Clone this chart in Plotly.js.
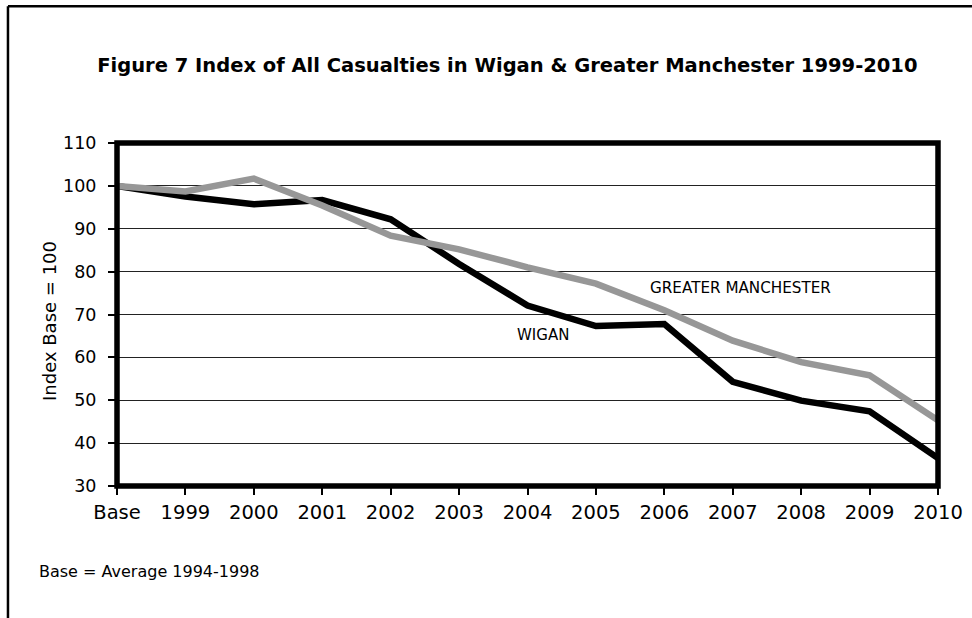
<!DOCTYPE html>
<html>
<head>
<meta charset="utf-8">
<script src="https://cdn.plot.ly/plotly-3.0.1.min.js"></script>
<style>html,body{margin:0;padding:0;background:#fff;}#chart{width:972px;height:618px;}</style>
</head>
<body>
<div id="chart"></div>
<script>
const categories = ["Base","1999","2000","2001","2002","2003","2004","2005","2006","2007","2008","2009","2010"];
const wigan = [100, 97.5, 95.7, 96.7, 92.2, 81.8, 72.1, 67.3, 67.8, 54.3, 49.9, 47.4, 36.5];
const greaterManchester = [100, 98.7, 101.7, 95.4, 88.4, 85.2, 81.0, 77.2, 71.0, 63.9, 58.9, 55.8, 45.3];
const yTicks = [30, 40, 50, 60, 70, 80, 90, 100, 110];

const FONT = 'DejaVu Sans, Verdana, sans-serif';

const traces = [
  {x: categories, y: wigan, type: 'scatter', mode: 'lines', name: 'WIGAN',
   line: {color: '#000000', width: 6.5}, hoverinfo: 'skip'},
  {x: categories, y: greaterManchester, type: 'scatter', mode: 'lines', name: 'GREATER MANCHESTER',
   line: {color: '#979797', width: 6.5}, hoverinfo: 'skip'}
];

const layout = {
  width: 972, height: 618,
  margin: {l: 117, r: 34, t: 143, b: 132, pad: 0},
  paper_bgcolor: '#ffffff', plot_bgcolor: '#ffffff',
  showlegend: false,
  font: {family: FONT, color: '#000'},
  title: {text: '<b>Figure 7 Index of All Casualties in Wigan &amp; Greater Manchester 1999-2010</b>',
          font: {family: FONT, size: 19.5, color: '#000'},
          x: 0.522, xanchor: 'center', y: 0.895, yanchor: 'middle'},
  xaxis: {type: 'category', range: [0, 12], showgrid: false, zeroline: false, showline: false,
          ticks: 'outside', ticklen: 8, tickwidth: 2, tickcolor: '#000', ticklabelstandoff: 1,
          tickfont: {size: 19.5, family: FONT}, fixedrange: true},
  yaxis: {range: [30, 110], tickvals: yTicks, showgrid: true, gridcolor: '#222', gridwidth: 1,
          zeroline: false, showline: false, ticks: 'outside', ticklen: 8, tickwidth: 2, tickcolor: '#000',
          ticklabelstandoff: 8,
          tickfont: {size: 17.5, family: FONT}, fixedrange: true},
  shapes: [
    {type: 'rect', xref: 'paper', yref: 'paper', x0: 0, x1: 1, y0: 0, y1: 1,
     line: {color: '#000', width: 5.5}, layer: 'above'},
    {type: 'line', xref: 'paper', yref: 'paper', x0: -0.1328, x1: -0.1328, y0: -0.5, y1: 1.399,
     line: {color: '#000', width: 2.5}},
    {type: 'line', xref: 'paper', yref: 'paper', x0: -0.1328, x1: 1.1, y0: 1.399, y1: 1.399,
     line: {color: '#000', width: 2.5}}
  ],
  annotations: [
    {x: 9.12, y: 76.1, xref: 'x', yref: 'y', text: 'GREATER MANCHESTER', showarrow: false,
     font: {size: 15.2, family: FONT, color: '#000'}},
    {x: 6.23, y: 65.3, xref: 'x', yref: 'y', text: 'WIGAN', showarrow: false,
     font: {size: 15, family: FONT, color: '#000'}},
    {x: 37, y: 321.5, xref: 'paper', yref: 'paper', text: 'Index Base = 100', showarrow: false,
     textangle: -90, font: {size: 18, family: FONT, color: '#000'}},
    {x: 37, y: 583, xref: 'paper', yref: 'paper', text: 'Base = Average 1994-1998', showarrow: false,
     xanchor: 'left', font: {size: 16, family: FONT, color: '#000'}}
  ]
};
// convert pixel-placed text annotations to paper coordinates
const pw = 972 - 117 - 34, ph = 618 - 143 - 132;
layout.annotations[2].x = (37 - 117) / pw;
layout.annotations[2].y = (618 - 132 - 321.5) / ph;
layout.annotations[3].x = (37 - 117) / pw;
layout.annotations[3].y = (618 - 132 - 583) / ph;

Plotly.newPlot('chart', traces, layout, {displayModeBar: false, staticPlot: true});
</script>
</body>
</html>
